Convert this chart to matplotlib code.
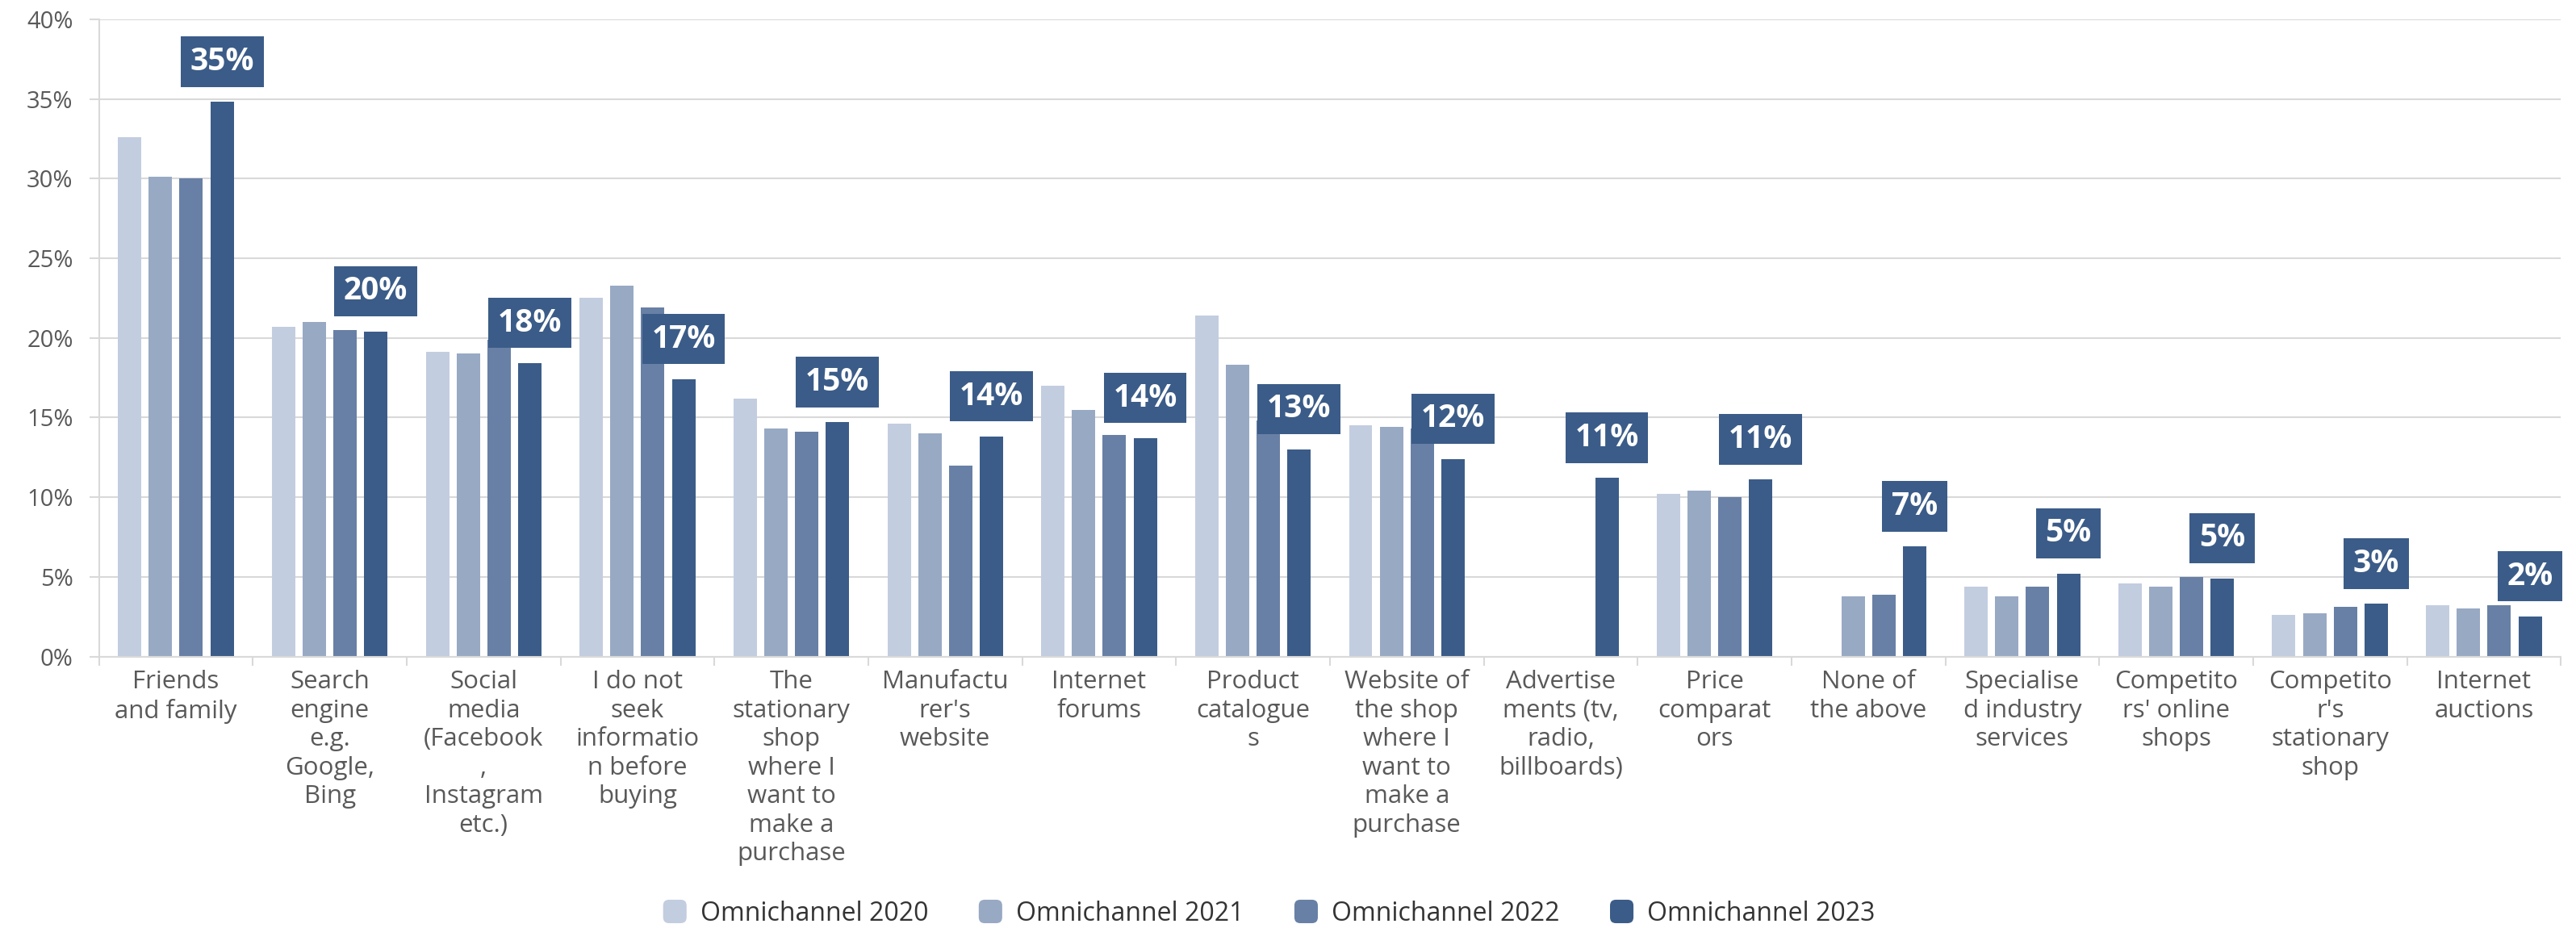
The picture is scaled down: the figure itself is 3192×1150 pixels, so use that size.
import numpy as np
import matplotlib
matplotlib.use("Agg")
import matplotlib.pyplot as plt
from matplotlib.patches import FancyBboxPatch, Patch
from matplotlib.legend_handler import HandlerPatch
from matplotlib.ticker import FuncFormatter, MultipleLocator, FixedLocator

plt.rcParams['font.family'] = ['Open Sans', 'DejaVu Sans']

categories = [
    "Friends\nand family",
    "Search\nengine\ne.g.\nGoogle,\nBing",
    "Social\nmedia\n(Facebook\n,\nInstagram\netc.)",
    "I do not\nseek\ninformatio\nn before\nbuying",
    "The\nstationary\nshop\nwhere I\nwant to\nmake a\npurchase",
    "Manufactu\nrer's\nwebsite",
    "Internet\nforums",
    "Product\ncatalogue\ns",
    "Website of\nthe shop\nwhere I\nwant to\nmake a\npurchase",
    "Advertise\nments (tv,\nradio,\nbillboards)",
    "Price\ncomparat\nors",
    "None of\nthe above",
    "Specialise\nd industry\nservices",
    "Competito\nrs' online\nshops",
    "Competito\nr's\nstationary\nshop",
    "Internet\nauctions",
]

nan = np.nan
omni_2020 = [32.6, 20.7, 19.1, 22.5, 16.2, 14.6, 17.0, 21.4, 14.5, nan, 10.2, nan, 4.4, 4.6, 2.6, 3.2]
omni_2021 = [30.1, 21.0, 19.0, 23.3, 14.3, 14.0, 15.5, 18.3, 14.4, nan, 10.4, 3.8, 3.8, 4.4, 2.7, 3.0]
omni_2022 = [30.0, 20.5, 19.9, 21.9, 14.1, 12.0, 13.9, 14.8, 14.3, nan, 10.0, 3.9, 4.4, 5.0, 3.1, 3.2]
omni_2023 = [34.8, 20.4, 18.4, 17.4, 14.7, 13.8, 13.7, 13.0, 12.4, 11.2, 11.1, 6.9, 5.2, 4.9, 3.3, 2.5]

series = [omni_2020, omni_2021, omni_2022, omni_2023]
names = ["Omnichannel 2020", "Omnichannel 2021", "Omnichannel 2022", "Omnichannel 2023"]
colors = ["#c3cde0", "#98a9c4", "#6880a5", "#3b5c88"]
grid_col = "#d9d9d9"
text_col = "#595959"


class RoundSquare(HandlerPatch):
    def create_artists(self, legend, orig_handle, xdescent, ydescent,
                       width, height, fontsize, trans):
        s = height * 1.3
        p = FancyBboxPatch((-xdescent + (width - s) / 2, -ydescent + (height - s) / 2), s, s,
                           boxstyle="round,pad=0,rounding_size=%f" % (s * 0.25),
                           facecolor=orig_handle.get_facecolor(), edgecolor="none",
                           transform=trans)
        return [p]


fig = plt.figure(figsize=(31.92, 11.5), dpi=100)
ax = fig.add_axes([0.0384, 0.2925, 0.9557, 0.6868])

x = np.arange(len(categories))
width = 0.152
step = 0.2
for i, (vals, col, name) in enumerate(zip(series, colors, names)):
    ax.bar(x + (i - 1.5) * step, vals, width=width, color=col, label=name, zorder=2)

# value boxes above the 2023 bars
for xi, v in zip(x, omni_2023):
    ax.annotate(f"{v:.0f}%", xy=(xi + 1.5 * step, v), xytext=(0, 36),
                textcoords="offset points", ha="center", va="center",
                fontsize=28, fontweight="bold", color="white", zorder=5,
                bbox=dict(boxstyle="square,pad=0.3", facecolor=colors[3], edgecolor="none"))

ax.set_xlim(-0.5, 15.5)
ax.set_ylim(0, 40)
ax.yaxis.set_major_locator(MultipleLocator(5))
ax.yaxis.set_major_formatter(FuncFormatter(lambda v, p: f"{v:.0f}%"))
ax.grid(axis="y", color=grid_col, linewidth=1.5, zorder=0)
ax.set_axisbelow(True)

ax.set_xticks(x)
ax.set_xticklabels(categories, fontsize=22.5, color=text_col, linespacing=1.24)
ax.xaxis.set_minor_locator(FixedLocator(np.arange(-0.5, 16, 1)))
ax.tick_params(axis="x", which="major", length=0, pad=12)
ax.tick_params(axis="x", which="minor", length=8, width=1.5, color=grid_col)
ax.tick_params(axis="y", length=9, width=1.5, color=grid_col, labelsize=21,
               labelcolor=text_col, pad=14)

for s in ["top", "right"]:
    ax.spines[s].set_visible(False)
for s in ["left", "bottom"]:
    ax.spines[s].set_color(grid_col)
    ax.spines[s].set_linewidth(1.5)

handles = [Patch(facecolor=c) for c in colors]
fig.legend(handles, names, loc="center", bbox_to_anchor=(0.4925, 0.0155), ncol=4,
           frameon=False, fontsize=23, labelcolor="#333333",
           handler_map={Patch: RoundSquare()}, handlelength=1.0, handletextpad=0.5,
           columnspacing=1.9)

fig.savefig("out.png", dpi=100)
